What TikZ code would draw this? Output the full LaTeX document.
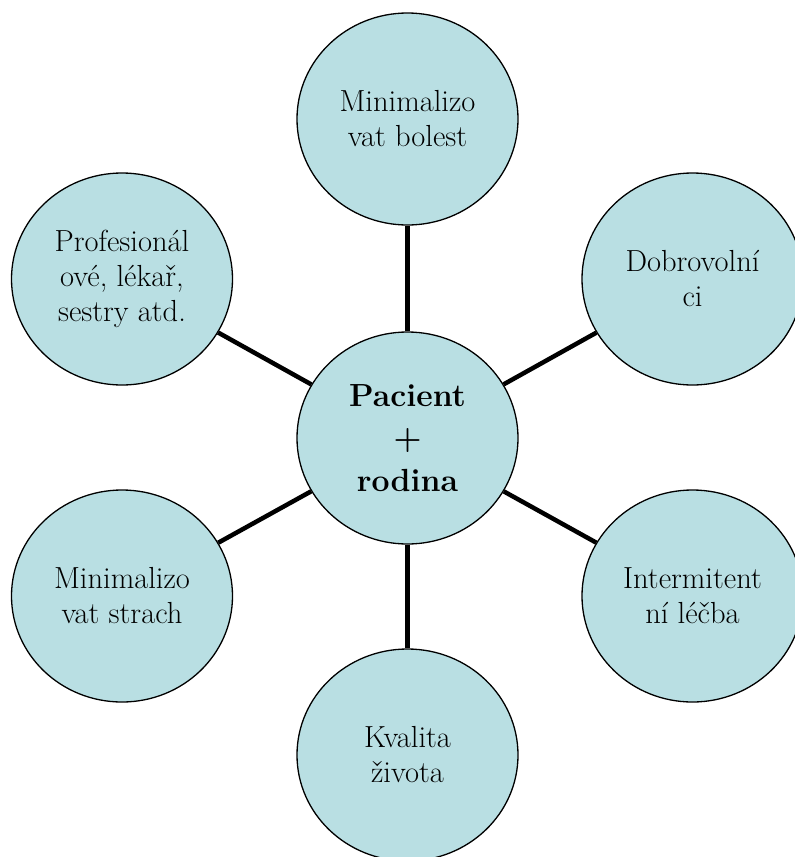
\documentclass[tikz,border=0pt]{standalone}
\usetikzlibrary{shapes.geometric}
\definecolor{bubble}{RGB}{185,223,227}
\begin{document}
\begin{tikzpicture}[x=1pt,y=-1pt,
  bub/.style={ellipse,draw=black,line width=1.3pt,fill=bubble,
    minimum width=221pt,minimum height=212pt,inner sep=0pt,align=center,
    font=\fontsize{30.5}{35}\selectfont},
  hub/.style={bub,font=\fontsize{32}{42.5}\selectfont\bfseries},
  link/.style={line width=4.5pt,black}]
\useasboundingbox (0,0) rectangle (795,857);
\node[hub] (c) at (407.5,438) {Pacient\\+\\rodina};
\node[bub] (t) at (407.5,119) {Minimalizo\\vat bolest};
\node[bub] (tr) at (692.5,279) {Dobrovolní\\ci};
\node[bub] (br) at (692.5,596) {Intermitent\\ní léčba};
\node[bub] (b) at (407.5,755) {Kvalita\\života};
\node[bub] (bl) at (122,596) {Minimalizo\\vat strach};
\node[bub] (tl) at (122,279) {Profesionál\\ové, lékař,\\sestry atd.};
\foreach \n in {t,tr,br,b,bl,tl}{\draw[link] (c) -- (\n);}
\end{tikzpicture}
\end{document}
